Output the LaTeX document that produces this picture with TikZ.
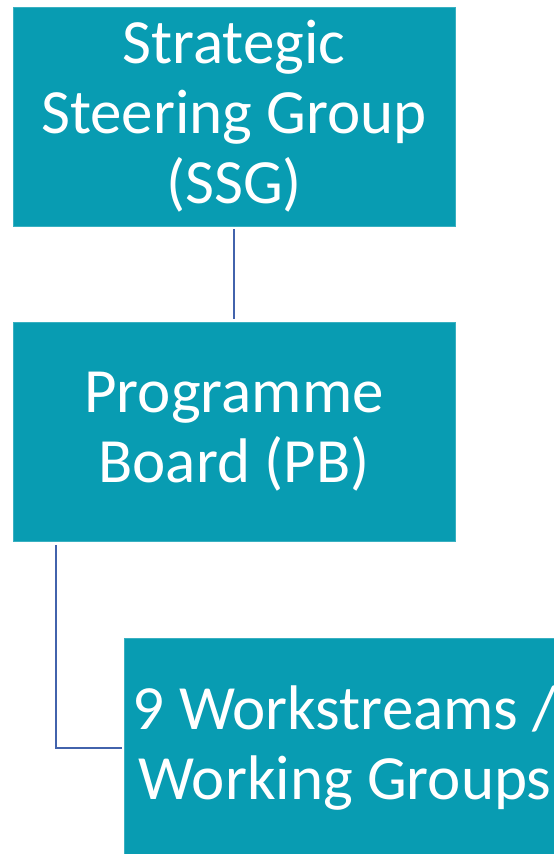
\documentclass[tikz,border=0pt]{standalone}
\usepackage{fontspec}
\setmainfont{Carlito}
\definecolor{boxteal}{RGB}{8,156,178}
\definecolor{linkblue}{RGB}{66,99,172}
\begin{document}
\begin{tikzpicture}[x=1pt,y=-1pt,
  orgbox/.style={rectangle, fill=boxteal, draw=boxteal!80!white, line width=0.8pt,
    minimum width=442pt, minimum height=219pt, inner sep=0pt,
    text=white, align=center,
    font=\fontsize{63}{70}\selectfont},
  link/.style={draw=linkblue, line width=2pt}]
  \useasboundingbox (0,0) rectangle (554,854);
  \clip (0,0) rectangle (554,854);
  \fill[white] (0,0) rectangle (554,854);

  % three levels of the programme structure
  \node[orgbox] (ssg) at (234,116.5) {Strategic\\Steering Group\\(SSG)};
  \node[orgbox] (pb)  at (234,432) {Programme\\Board (PB)};
  \node[orgbox] (ws)  at (345,748) {9 Workstreams /\\Working Groups};

  % connectors
  \draw[link] ([yshift=-3pt]ssg.south) -- ([yshift=3pt]pb.north);
  \coordinate (pbdrop) at ([yshift=-3pt]pb.south west);
  \draw[link] (pbdrop -| 56,0) |- ([xshift=-2pt]ws.west);
\end{tikzpicture}
\end{document}
